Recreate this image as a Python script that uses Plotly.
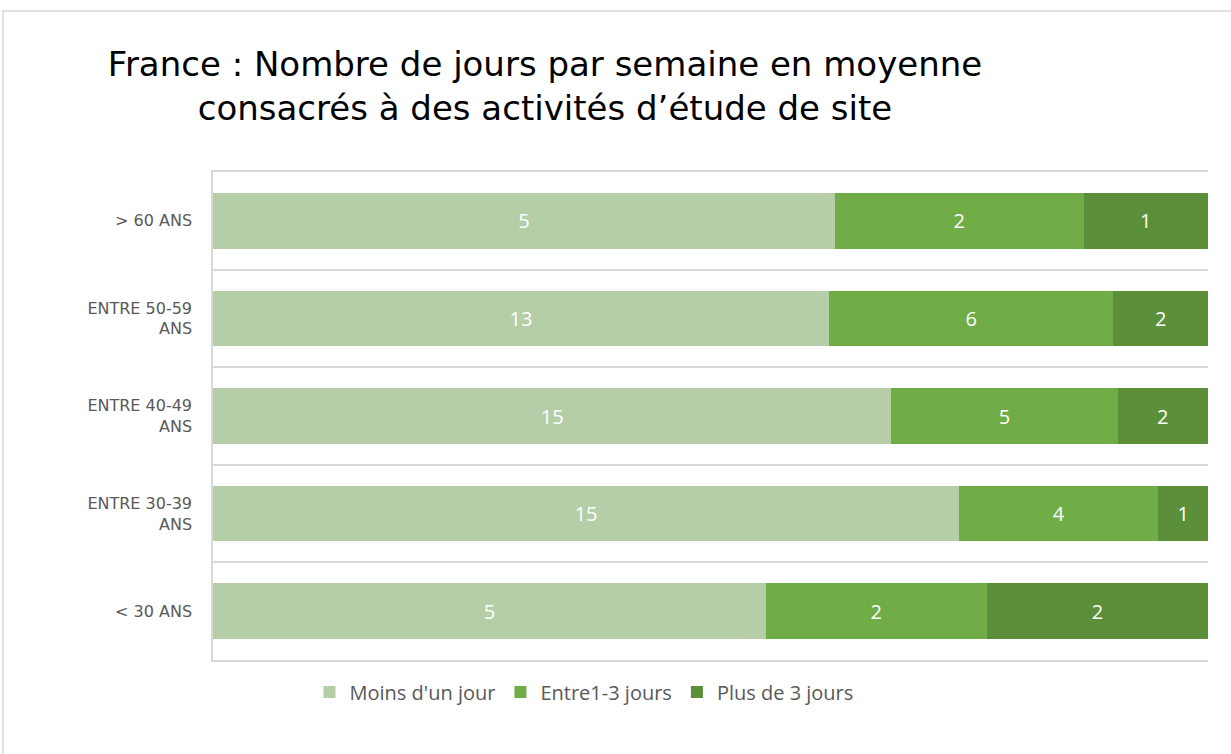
import plotly.graph_objects as go

categories = ["< 30 ANS", "ENTRE 30-39<br>ANS", "ENTRE 40-49<br>ANS", "ENTRE 50-59<br>ANS", "> 60 ANS"]
moins_un_jour = [5, 15, 15, 13, 5]
entre_1_3 = [2, 4, 5, 6, 2]
plus_de_3 = [2, 1, 2, 2, 1]
series_names = ["Moins d'un jour", "Entre1-3 jours", "Plus de 3 jours"]
colors = ["#B5CEA8", "#70AD47", "#5B8F39"]

W, H = 1231, 754
PL, PR, PT, PB = 213, 1208, 172, 660
L, R, T, B = PL, W - PR, PT, H - PB
PW, PH = PR - PL, PB - PT

def px_x(x):
    return (x - PL) / PW

def px_y(y):
    return (PB - y) / PH

fig = go.Figure()
for name, vals, col in zip(series_names, [moins_un_jour, entre_1_3, plus_de_3], colors):
    fig.add_trace(go.Bar(
        y=categories, x=vals, name=name, orientation="h",
        marker=dict(color=col, line=dict(width=0)),
        text=vals, textposition="inside", insidetextanchor="middle",
        textfont=dict(color="white", size=20, family="Open Sans"),
        textangle=0,
    ))

fig.update_layout(
    width=W, height=H,
    barmode="stack", barnorm="percent", bargap=0.43,
    margin=dict(l=L, r=R, t=T, b=B),
    paper_bgcolor="white", plot_bgcolor="white",
    title=dict(
        text="France : Nombre de jours par semaine en moyenne<br>consacrés à des activités d’étude de site",
        x=545 / W, xanchor="center", y=1 - 76 / H, yanchor="middle",
        font=dict(family="DejaVu Sans", size=34, color="black"),
    ),
    legend=dict(orientation="h", x=px_x(584), xanchor="center",
                y=px_y(692), yanchor="middle",
                font=dict(family="Open Sans", size=20, color="#595959"),
                traceorder="normal", itemsizing="constant"),
    font=dict(family="Open Sans", color="#595959"),
    uniformtext=dict(mode=False),
)
fig.update_xaxes(range=[0, 100], showgrid=False, showticklabels=False, zeroline=False,
                 showline=True, mirror=True, linecolor="#D9D9D9", linewidth=1.5, ticks="")
fig.update_yaxes(tickson="boundaries", showgrid=True, gridcolor="#D9D9D9", gridwidth=1.5,
                 showline=True, linecolor="#D9D9D9", linewidth=1.5, ticks="",
                 ticklabelstandoff=16,
                 tickfont=dict(family="DejaVu Sans", size=16, color="#595959"))

# outer chart frame
fig.add_shape(type="rect", xref="paper", yref="paper",
              x0=px_x(3), x1=px_x(1245),
              y0=px_y(770), y1=px_y(11),
              line=dict(color="#D9D9D9", width=1.5), fillcolor="rgba(0,0,0,0)", layer="below")

fig.write_html("out.html", config={"displayModeBar": False},
               post_script="document.body.style.margin='0';")
